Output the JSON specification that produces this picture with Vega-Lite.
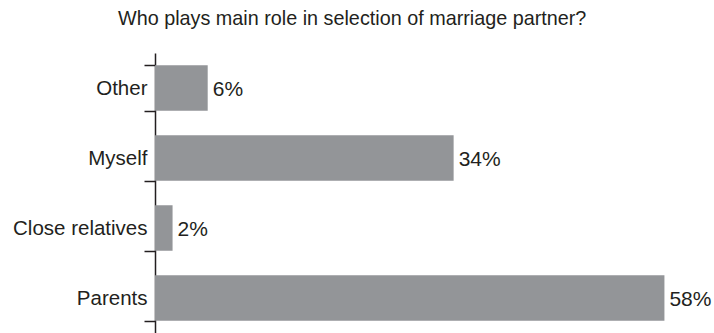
{
  "$schema": "https://vega.github.io/schema/vega-lite/v6.json",
  "width": 527,
  "height": 280,
  "autosize": "none",
  "padding": {"left": 155, "top": 53, "right": 32, "bottom": 0},
  "background": "white",
  "title": {
    "text": "Who plays main role in selection of marriage partner?",
    "anchor": "start",
    "frame": "group",
    "dx": -37,
    "offset": 14,
    "fontSize": 19.8,
    "font": "Liberation Sans",
    "fontWeight": "normal",
    "color": "#231f20"
  },
  "data": {
    "values": [
      {"role": "Other", "share": 0.06},
      {"role": "Myself", "share": 0.34},
      {"role": "Close relatives", "share": 0.02},
      {"role": "Parents", "share": 0.58}
    ]
  },
  "encoding": {
    "y": {
      "field": "role",
      "type": "nominal",
      "sort": null,
      "scale": {"paddingInner": 0.35, "paddingOuter": 0.175},
      "axis": {
        "title": null,
        "tickBand": "extent",
        "tickSize": 11,
        "tickWidth": 1.5,
        "tickColor": "#231f20",
        "domainColor": "#231f20",
        "domainWidth": 1.5,
        "labelPadding": -3,
        "labelFont": "Liberation Sans",
        "labelFontSize": 20.5,
        "labelColor": "#231f20",
        "grid": false
      }
    },
    "x": {
      "field": "share",
      "type": "quantitative",
      "scale": {"domain": [0, 0.6], "nice": false},
      "axis": null
    }
  },
  "layer": [
    {"mark": {"type": "bar", "color": "#939598"}},
    {
      "mark": {
        "type": "text",
        "align": "left",
        "baseline": "middle",
        "dx": 5,
        "dy": 2,
        "font": "Liberation Sans",
        "fontSize": 21,
        "color": "#231f20"
      },
      "encoding": {"text": {"field": "share", "format": ".0%"}}
    }
  ],
  "config": {"view": {"stroke": null}}
}
